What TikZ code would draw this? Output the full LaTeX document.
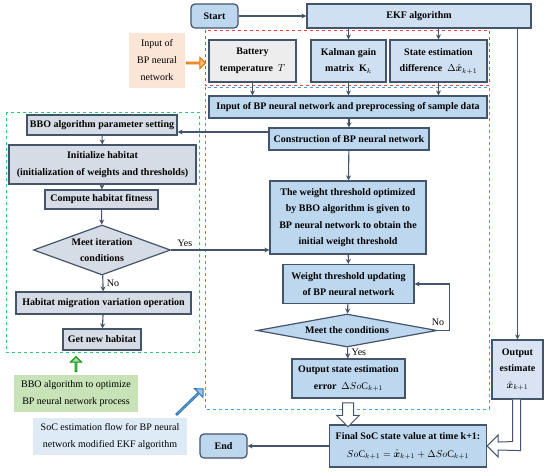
\documentclass[tikz,border=0pt]{standalone}
\usepackage{amsmath,bm}
\usepackage{fontspec}
\setmainfont{Liberation Serif}
\usetikzlibrary{arrows.meta,calc,positioning,shapes.geometric,shapes.arrows}

\definecolor{frame}{HTML}{44546A}
\definecolor{midblue}{HTML}{BDD7EE}
\definecolor{ekfblue}{HTML}{CFE0F2}
\definecolor{paleblue}{HTML}{DAE3F3}
\definecolor{slategrey}{HTML}{D6DCE5}
\definecolor{lightgrey}{HTML}{EDEDED}
\definecolor{notegreen}{HTML}{C9E3B8}
\definecolor{noteblue}{HTML}{DEEBF7}
\definecolor{noteorange}{HTML}{FBE5D6}
\definecolor{dashred}{HTML}{FF4040}
\definecolor{dashblue}{HTML}{3FA0E6}
\definecolor{dashgreen}{HTML}{2ECC71}
\newcommand{\bxfont}{\bfseries\fontsize{10}{16.5}\selectfont}
\newcommand{\lblfont}{\fontsize{10}{17}\selectfont}

\begin{document}
\begin{tikzpicture}[>={Stealth[length=5pt,width=5pt]}, x=1pt, y=-1pt,
  box/.style={draw=frame, line width=1.2pt, inner sep=1pt, align=center, font=\bxfont},
  bluebox/.style={box, fill=midblue},
  ekfbox/.style={box, fill=ekfblue},
  palebox/.style={box, fill=paleblue},
  greybox/.style={box, fill=lightgrey},
  bbobox/.style={box, fill=slategrey},
  term/.style={box, fill=midblue, rounded corners=4pt, minimum width=47, minimum height=24},
  note/.style={inner sep=2pt, align=center, font=\lblfont},
  conn/.style={->, draw=frame, line width=1.1pt},
  group/.style={dashed, line width=0.9pt},
  hollow/.style={single arrow, inner sep=0pt, line width=1pt}]
\useasboundingbox (0,0) rectangle (550,475);

% dashed groups
\draw[group, dashred] (205,30) rectangle (489,85);
\draw[group, dashblue] (205,87) rectangle (489,409);
\draw[group, dashgreen] (6,112) rectangle (199,352);

% top row
\node[term] (start) at (214.5,16) {Start};
\node[ekfbox, minimum width=224, minimum height=24] (ekf) at (419,16) {EKF algorithm};
\node[greybox, minimum width=87, minimum height=42] (battery) at (252.5,61) {Battery\\temperature~~$T$};
\node[ekfbox, minimum width=75, minimum height=42] (kalman) at (348.5,61) {Kalman gain\\matrix~~$\mathbf{K}_k$};
\node[ekfbox, minimum width=97, minimum height=42] (sed) at (438.5,61) {State estimation\\difference~~$\Delta\hat{\bm{x}}_{k+1}$};
\node[note, fill=noteorange, minimum width=56, minimum height=55] (bpin) at (157,60.5) {Input of\\BP neural\\network};
\node[hollow, draw=orange!90!black, fill=orange!55, minimum height=19, minimum width=11,
  single arrow head extend=3pt] (orarrow) at (195.5,63) {};

% BP branch
\node[bluebox, minimum width=278, minimum height=22] (preproc) at (348,107) {Input of BP neural network and preprocessing of sample data};
\node[bluebox, minimum width=160, minimum height=22] (construct) at (349,139) {Construction of BP neural network};
\node[bluebox, minimum width=156, minimum height=73] (wto) at (348,217.5) {The weight threshold optimized\\by BBO algorithm is given to\\BP neural network to obtain the\\initial weight threshold};
\node[bluebox, minimum width=131, minimum height=39] (wtu) at (348.5,284) {Weight threshold updating\\of BP neural network};
\node[bluebox, diamond, aspect=6, inner sep=0pt, minimum width=180, minimum height=33] (meetcond) at (347,330.5) {Meet the conditions};
\node[bluebox, minimum width=113, minimum height=39] (outerr) at (348.5,378.5) {Output state estimation\\error~~$\Delta So\mathrm{C}_{k+1}$};

% BBO branch
\node[bbobox, minimum width=150, minimum height=20] (bboset) at (102,125) {BBO algorithm parameter setting};
\node[bbobox, minimum width=187, minimum height=39] (inithab) at (102.5,164.5) {Initialize habitat\\(initialization of weights and thresholds)};
\node[bbobox, minimum width=113, minimum height=19] (fitness) at (101.5,199.5) {Compute habitat fitness};
\node[bbobox, diamond, aspect=2.7, inner sep=0pt, minimum width=137, minimum height=50] (meetiter) at (102,250) {Meet iteration\\conditions};
\node[bbobox, minimum width=175, minimum height=22] (habmig) at (103.5,303) {Habitat migration variation operation};
\node[bbobox, minimum width=78, minimum height=21] (gethab) at (102,339.5) {Get new habitat};

% output side
\node[palebox, minimum width=51, minimum height=59] (outest) at (517.5,369.5) {Output\\estimate\\$\hat{\bm{x}}_{k+1}$};
\node[bluebox, minimum width=157, minimum height=42] (final) at (408,446) {Final SoC state value at time k+1:\\[1pt]$So\mathrm{C}_{k+1}=\hat{\bm{x}}_{k+1}+\Delta So\mathrm{C}_{k+1}$};
\node[term] (endn) at (223.5,446) {End};

% notes at the bottom left
\node[note, fill=notegreen, minimum width=124, minimum height=37] (bbonote) at (76,393.5) {BBO algorithm to optimize\\BP neural network process};
\node[note, fill=noteblue, minimum width=154, minimum height=37] (socnote) at (110,436.5) {SoC estimation flow for BP neural\\network modified EKF algorithm};
\node[hollow, draw=green!60!black, fill=green!40!black!30, rotate=90, minimum height=15, minimum width=11,
  single arrow head extend=2.5pt] (grarrow) at (76,364.5) {};
\node[hollow, draw={rgb,255:red,46;green,117;blue,182}, fill={rgb,255:red,157;green,195;blue,230}, rotate=44,
  minimum height=37, minimum width=12, single arrow head extend=3pt] (blarrow) at (189.5,402) {};

% connectors
\draw[conn] (start) -- (ekf);
\draw[conn] (ekf.south -| kalman) -- (kalman);
\draw[conn] (ekf.south -| sed) -- (sed);
\draw[conn] (battery) -- (battery |- preproc.north);
\draw[conn] (kalman) -- (kalman |- preproc.north);
\draw[conn] (sed) -- (sed |- preproc.north);
\draw[conn] (preproc.south -| construct) -- (construct);
\draw[conn] ([yshift=7pt]construct.west) -- ([yshift=7pt]construct.west -| bboset.east);
\draw[conn] (construct) -- (wto);
\draw[conn] (wto) -- (wtu);
\draw[conn] (wtu) -- (meetcond);
\draw[conn] (meetcond) -- node[right, font=\lblfont, pos=0.45] {Yes} (outerr);
\draw[conn] (meetcond.east) -- ++(12,0) |- (wtu.east);
\node[font=\lblfont] (nolbl) at (438,322) {No};
\draw[conn] (bboset) -- (inithab);
\draw[conn] (inithab) -- (fitness);
\draw[conn] (fitness) -- (meetiter);
\draw[conn] (meetiter) -- node[right, font=\lblfont] {No} (habmig);
\draw[conn] (habmig) -- (gethab);
\draw[conn] (meetiter.east) -- (meetiter.east -| wto.west);
\node[font=\lblfont] (yeslbl) at (185,243) {Yes};
\draw[conn] (ekf.south -| outest) -- (outest);
\draw[conn] (final) -- (endn);

% hollow arrows into the final box
\node[hollow, draw=frame, fill=white, rotate=-90, minimum height=24, minimum width=22,
  single arrow head extend=6pt, inner sep=5pt] (downarrow) at (348,412) {};
\draw[frame, line width=1pt, fill=white]
  ($(outest.south)+(-5,0)$) -- ($(outest.south)+(-5,42)$) -- ($(final.east)+(11,-4)$)
  -- ($(final.east)+(11,-11)$) -- (final.east) -- ($(final.east)+(11,11)$)
  -- ($(final.east)+(11,4)$) -- ($(outest.south)+(3,51)$) -- ($(outest.south)+(3,0)$);
\end{tikzpicture}
\end{document}
